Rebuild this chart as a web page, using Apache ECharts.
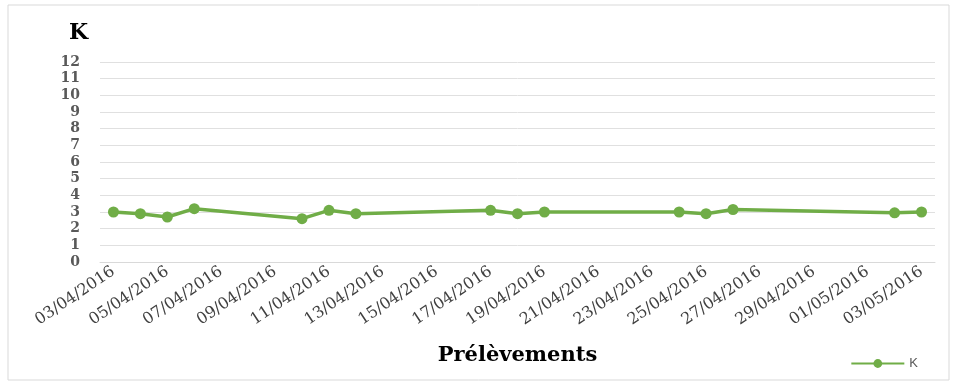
<!DOCTYPE html>
<html>
<head>
<meta charset="utf-8">
<script src="https://cdn.jsdelivr.net/npm/echarts@6/dist/echarts.min.js"></script>
<style>
  html, body { margin: 0; padding: 0; background: #fff; }
  #chart { width: 957px; height: 383px; }
</style>
</head>
<body>
<div id="chart"></div>
<script>
// every day shown on the axis (one category per day)
const days = [
  '03/04/2016', '04/04/2016', '05/04/2016', '06/04/2016', '07/04/2016', '08/04/2016',
  '09/04/2016', '10/04/2016', '11/04/2016', '12/04/2016', '13/04/2016', '14/04/2016',
  '15/04/2016', '16/04/2016', '17/04/2016', '18/04/2016', '19/04/2016', '20/04/2016',
  '21/04/2016', '22/04/2016', '23/04/2016', '24/04/2016', '25/04/2016', '26/04/2016',
  '27/04/2016', '28/04/2016', '29/04/2016', '30/04/2016', '01/05/2016', '02/05/2016',
  '03/05/2016'
]

// sampling dates and K values
const sampleDates = [
  '03/04/2016', '04/04/2016', '05/04/2016', '06/04/2016', '10/04/2016',
  '11/04/2016', '12/04/2016', '17/04/2016', '18/04/2016', '19/04/2016',
  '24/04/2016', '25/04/2016', '26/04/2016', '02/05/2016', '03/05/2016'
]
const kValues = [3.0, 2.9, 2.7, 3.2, 2.6, 3.1, 2.9, 3.1, 2.9, 3.0, 3.0, 2.9, 3.15, 2.95, 3.0]

const seriesData = days.map(d => {
  const i = sampleDates.indexOf(d)
  return i >= 0 ? kValues[i] : null
})

const green = '#70ad47'
const serif = 'DejaVu Serif'
const chart = echarts.init(document.getElementById('chart'))
chart.setOption({
  animation: false,
  graphic: [{
    type: 'rect',
    shape: { x: 8, y: 5, width: 941, height: 375 },
    style: { fill: 'none', stroke: '#d9d9d9', lineWidth: 1 },
    silent: true
  }],
  title: {
    text: 'K',
    left: 64,
    top: 17,
    textStyle: { fontFamily: serif, fontWeight: 'bold', fontSize: 22, color: '#000' }
  },
  legend: {
    right: 34,
    top: 352,
    itemWidth: 53,
    itemHeight: 11,
    itemGap: 6,
    data: ['K'],
    textStyle: { fontFamily: 'Liberation Sans', fontSize: 13, color: '#595959' }
  },
  grid: { left: 100, right: 22, top: 62, bottom: 121 },
  xAxis: {
    type: 'category',
    data: days,
    boundaryGap: true,
    name: 'Prélèvements',
    nameLocation: 'middle',
    nameGap: 83,
    nameTextStyle: { fontFamily: serif, fontWeight: 'bold', fontSize: 21, color: '#000' },
    axisLine: { lineStyle: { color: '#d9d9d9' } },
    axisTick: { interval: 1, length: 4, lineStyle: { color: '#d9d9d9' } },
    axisLabel: {
      interval: 1,
      rotate: 34,
      margin: 8,
      fontFamily: serif,
      fontSize: 16,
      color: '#404040'
    }
  },
  yAxis: {
    type: 'value',
    min: 0,
    max: 12,
    interval: 1,
    axisLine: { show: false },
    axisTick: { show: false },
    splitLine: { lineStyle: { color: '#e0e0e0' } },
    axisLabel: {
      margin: 20,
      fontFamily: serif,
      fontWeight: 'bold',
      fontSize: 14,
      color: '#595959'
    }
  },
  series: [{
    name: 'K',
    type: 'line',
    data: seriesData,
    connectNulls: true,
    symbol: 'circle',
    symbolSize: 11,
    itemStyle: { color: green },
    lineStyle: { color: green, width: 3.5 }
  }]
})
</script>
</body>
</html>
